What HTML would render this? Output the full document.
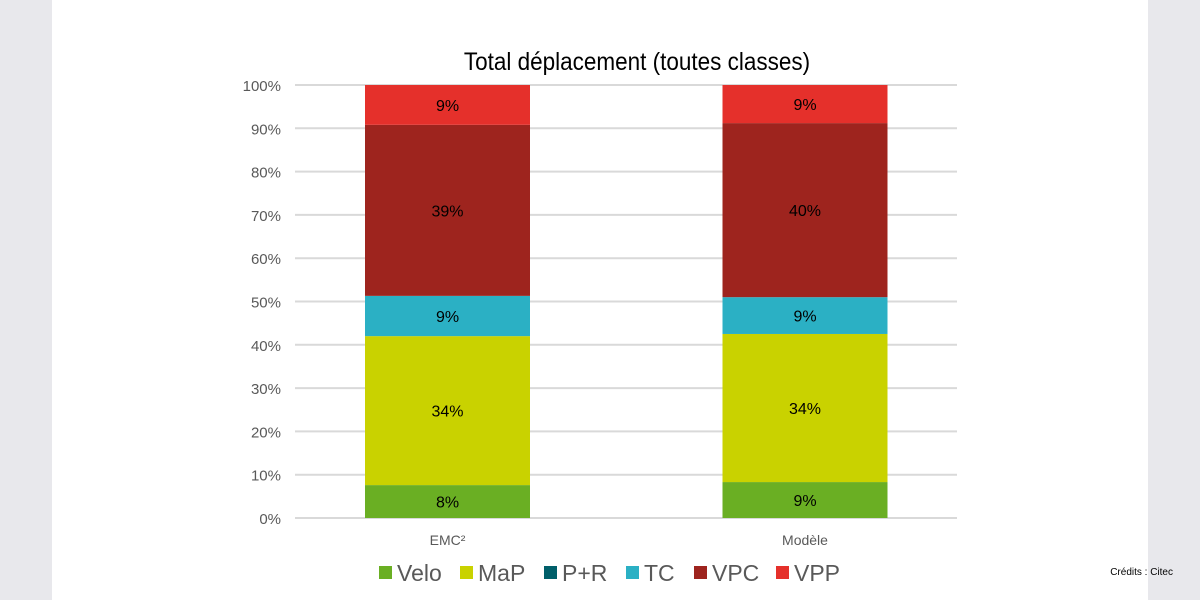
<!DOCTYPE html>
<html><head><meta charset="utf-8"><style>
html,body{margin:0;padding:0;background:#e8e8ec;}
svg{display:block;font-family:"Liberation Sans",Arial,sans-serif;}
</style></head><body>
<svg width="1200" height="600" viewBox="0 0 1200 600">
<rect x="0" y="0" width="1200" height="600" fill="#e8e8ec"/>
<rect x="52" y="0" width="1096" height="600" fill="#ffffff"/>
<text x="637" y="70" text-anchor="middle" font-size="25" fill="#000" transform="translate(637,0) scale(0.9,1) translate(-637,0)">Total déplacement (toutes classes)</text>
<g id="grid"></g>
<g id="bars"></g>
<g id="legend"></g>
<text x="1173" y="575" text-anchor="end" font-size="10" fill="#000">Crédits : Citec</text>
</svg>
<script>
const categories = ["EMC²", "Modèle"];
const seriesNames = ["Velo", "MaP", "P+R", "TC", "VPC", "VPP"];
const seriesColors = ["#6aaf23", "#c9d200", "#005f6a", "#2bb0c4", "#9e241e", "#e5302b"];
const velo = [7.6, 8.3];
const map = [34.4, 34.2];
const pr = [0, 0];
const tc = [9.3, 8.5];
const vpc = [39.5, 40.2];
const vpp = [9.2, 8.8];
const labels = [["8%","34%","","9%","39%","9%"],["9%","34%","","9%","40%","9%"]];
const ticks = [0,10,20,30,40,50,60,70,80,90,100];

const NS = "http://www.w3.org/2000/svg";
const plotL = 295, plotR = 957, y0 = 518, y100 = 85;
const catL = 268.75, catR = 983.75;
const yScale = v => y0 - (v/100)*(y0-y100);
const bandW = (catR-catL)/categories.length;
const barW = 165;
const xCenter = i => catL + bandW*(i+0.5);
function mk(tag, attrs, parent){const e=document.createElementNS(NS,tag);for(const k in attrs)e.setAttribute(k,attrs[k]);parent.appendChild(e);return e;}

const grid = document.getElementById("grid");
ticks.forEach(t=>{
  const y = yScale(t);
  const l = mk("line",{x1:plotL,x2:plotR,y1:y,y2:y,stroke:"#d9d9d9","stroke-width":2},grid);
  
  
  const tx = mk("text",{x:281,y:y+6,"text-anchor":"end","font-size":15,fill:"#595959"},grid);
  tx.textContent = t+"%";
  
  
});

const series = [velo, map, pr, tc, vpc, vpp];
const bars = document.getElementById("bars");
categories.forEach((c,i)=>{
  let cum = 0;
  series.forEach((s,k)=>{
    const v = s[i];
    const yt = yScale(cum+v), yb = yScale(cum);
    if(v>0){
      const r = mk("rect",{x:xCenter(i)-barW/2,y:yt,width:barW,height:yb-yt,fill:seriesColors[k]},bars);
      
      
      if(labels[i][k]){
        const t = mk("text",{x:xCenter(i),y:(yt+yb)/2+6,"text-anchor":"middle","font-size":16,fill:"#000"},bars);
        t.textContent = labels[i][k];
        
        
      }
    }
    cum += v;
  });
  const ct = mk("text",{x:xCenter(i),y:545,"text-anchor":"middle","font-size":14,fill:"#595959"},bars);
  ct.textContent = c;
  
  
});

const legend = document.getElementById("legend");
const legX = [379, 460, 544, 626, 694, 776];
seriesNames.forEach((n,k)=>{
  const g = mk("g",{},legend);
  
  
  mk("rect",{x:legX[k],y:566,width:13,height:13,fill:seriesColors[k]},g);
  const t = mk("text",{x:legX[k]+18,y:581,"font-size":23,fill:"#595959"},g);
  t.textContent = n;
});
</script>
</body></html>
